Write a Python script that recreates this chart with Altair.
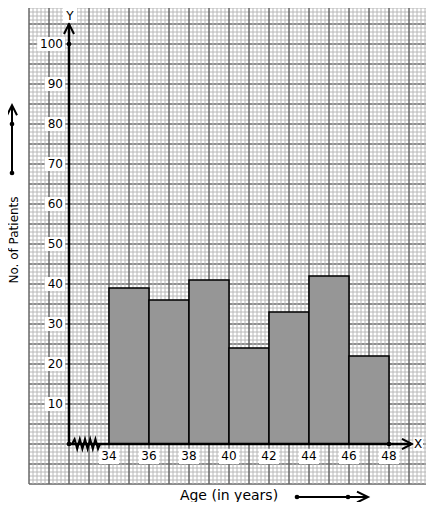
import altair as alt
import numpy as np
import pandas as pd

# ---- data ----
bin_start = [34, 36, 38, 40, 42, 44, 46]
bin_end = [36, 38, 40, 42, 44, 46, 48]
patients = [39, 36, 41, 24, 33, 42, 22]
x_ticks = [34, 36, 38, 40, 42, 44, 46, 48]
y_ticks = [10, 20, 30, 40, 50, 60, 70, 80, 90, 100]
x_title = "Age (in years)"
y_title = "No. of Patients"

XD = [30, 49.85]
YD = [-10, 109]


def X(f):
    return alt.X(f, type="quantitative", scale=alt.Scale(domain=XD, nice=False, zero=False), axis=None)


def Y(f):
    return alt.Y(f, type="quantitative", scale=alt.Scale(domain=YD, nice=False, zero=False), axis=None)


# ---- graph paper ----
minor_x = pd.DataFrame({"x": np.round(np.arange(30, 49.81, 0.2), 3)})
major_x = pd.DataFrame({"x": np.arange(30, 50, 1)})
minor_y = pd.DataFrame({"y": np.arange(-10, 110, 1)})
major_y = pd.DataFrame({"y": np.arange(-10, 110, 5)})

g_minor_y = alt.Chart(minor_y).mark_rule(color="#b8b8b8", strokeWidth=1).encode(y=Y("y"))
g_major_y = alt.Chart(major_y).mark_rule(color="#404040", strokeWidth=1).encode(y=Y("y"))
g_minor_x = alt.Chart(minor_x).mark_rule(color="#b8b8b8", strokeWidth=1).encode(x=X("x"))
g_major_x = alt.Chart(major_x).mark_rule(color="#404040", strokeWidth=1).encode(x=X("x"))

# ---- bars ----
bars_df = pd.DataFrame({"s": bin_start, "e": bin_end, "v": patients, "z": [0] * len(patients)})
bars = alt.Chart(bars_df).mark_rect(fill="#969696", stroke="black", strokeWidth=1.5).encode(
    x=X("s"), x2="e", y=Y("z"), y2="v"
)

# ---- axes ----
axis_lines = pd.DataFrame({
    "x": [32, 32, 32, 49.1],
    "y": [0, 105, 0, 0],
    "g": ["y", "y", "x", "x"],
    "o": [0, 1, 0, 1],
})
axes = alt.Chart(axis_lines).mark_line(color="black", strokeWidth=2.5).encode(
    x=X("x"), y=Y("y"), detail="g:N", order="o:Q"
)

arrows_df = pd.DataFrame({
    "x": [31.75, 32, 32.25, 48.65, 49.15, 48.65, 28.9, 29.15, 29.4, 46.4, 46.95, 46.4],
    "y": [102.5, 105, 102.5, 1.3, 0, -1.3, 82.2, 84.7, 82.2, -11.9, -13.25, -14.6],
    "g": ["a", "a", "a", "b", "b", "b", "c", "c", "c", "d", "d", "d"],
    "o": [0, 1, 2] * 4,
})
arrows = alt.Chart(arrows_df).mark_line(color="black", strokeWidth=2).encode(
    x=X("x"), y=Y("y"), detail="g:N", order="o:Q"
)

side_lines = pd.DataFrame({
    "x": [29.15, 29.15, 43.4, 46.95],
    "y": [67.75, 84.7, -13.25, -13.25],
    "g": ["c", "c", "d", "d"],
    "o": [0, 1, 0, 1],
})
side = alt.Chart(side_lines).mark_line(color="black", strokeWidth=2).encode(
    x=X("x"), y=Y("y"), detail="g:N", order="o:Q"
)

zig_x = [32.15, 32.28, 32.41, 32.54, 32.67, 32.8, 32.93, 33.06, 33.19, 33.32, 33.45, 33.55]
zig_y = [0, 1.2, -1.2, 1.2, -1.2, 1.2, -1.2, 1.2, -1.2, 1.2, -1.2, 0]
zig = alt.Chart(pd.DataFrame({"x": zig_x, "y": zig_y, "o": list(range(len(zig_x)))})).mark_line(
    color="black", strokeWidth=2
).encode(x=X("x"), y=Y("y"), order="o:Q")

dots_df = pd.DataFrame({
    "x": [32, 32, 48, 29.15, 29.15, 43.4, 45.95],
    "y": [0, 100, 0, 67.75, 80, -13.25, -13.25],
})
dots = alt.Chart(dots_df).mark_point(filled=True, color="black", size=22, opacity=1).encode(
    x=X("x"), y=Y("y")
)

# ---- tick labels with white boxes ----
xl = pd.DataFrame({"v": x_ticks, "t": [str(v) for v in x_ticks]})
xl["l"] = xl["v"] - 0.5
xl["r"] = xl["v"] + 0.5
xl["b"] = -5.0
xl["tp"] = -1.2
xl["yy"] = -3.0
xbox = alt.Chart(xl).mark_rect(fill="white").encode(x=X("l"), x2="r", y=Y("b"), y2="tp")
xtxt = alt.Chart(xl).mark_text(font="DejaVu Sans", fontSize=12, color="black", baseline="middle", align="center").encode(
    x=X("v"), y=Y("yy"), text="t:N"
)

yl = pd.DataFrame({"v": y_ticks, "t": [str(v) for v in y_ticks]})
yl["xx"] = 31.7
yl["l"] = 31.7 - (yl["t"].str.len() * 7.6 + 3) / 20
yl["r"] = 31.8
yl["b"] = yl["v"] - 1.75
yl["tp"] = yl["v"] + 1.75
ybox = alt.Chart(yl).mark_rect(fill="white").encode(x=X("l"), x2="r", y=Y("b"), y2="tp")
ytxt = alt.Chart(yl).mark_text(font="DejaVu Sans", fontSize=12, color="black", baseline="middle", align="right").encode(
    x=X("xx"), y=Y("v"), text="t:N"
)

# axis letters
let = pd.DataFrame({"x": [32.05, 49.45], "y": [106.9, 0], "t": ["Y", "X"]})
letbox = alt.Chart(pd.DataFrame({"l": [31.7, 49.22], "r": [32.4, 49.7], "b": [105.3, -1.7], "tp": [109, 1.7]})).mark_rect(
    fill="white"
).encode(x=X("l"), x2="r", y=Y("b"), y2="tp")
lettxt = alt.Chart(let).mark_text(font="DejaVu Sans", fontSize=12, color="black", baseline="middle", align="center").encode(
    x=X("x"), y=Y("y"), text="t:N"
)

# titles
xt = alt.Chart(pd.DataFrame({"x": [40.0], "y": [-13.0], "t": [x_title]})).mark_text(
    font="DejaVu Sans", fontSize=14, color="black", baseline="middle", align="center"
).encode(x=X("x"), y=Y("y"), text="t:N")
yt = alt.Chart(pd.DataFrame({"x": [29.27], "y": [51.0], "t": [y_title]})).mark_text(
    font="DejaVu Sans", fontSize=12, color="black", baseline="middle", align="center", angle=270
).encode(x=X("x"), y=Y("y"), text="t:N")

chart = alt.layer(
    g_minor_y, g_major_y, g_minor_x, g_major_x,
    bars, axes, zig, arrows, side, dots,
    xbox, xtxt, ybox, ytxt, letbox, lettxt, xt, yt,
).properties(
    width=397,
    height=476,
    padding={"left": 21, "top": 0, "right": 0, "bottom": 18},
    autosize=alt.AutoSizeParams(type="none"),
    background="white",
).configure_view(stroke=None)

chart.save("out.html", embed_options={"renderer": "svg", "actions": False})
